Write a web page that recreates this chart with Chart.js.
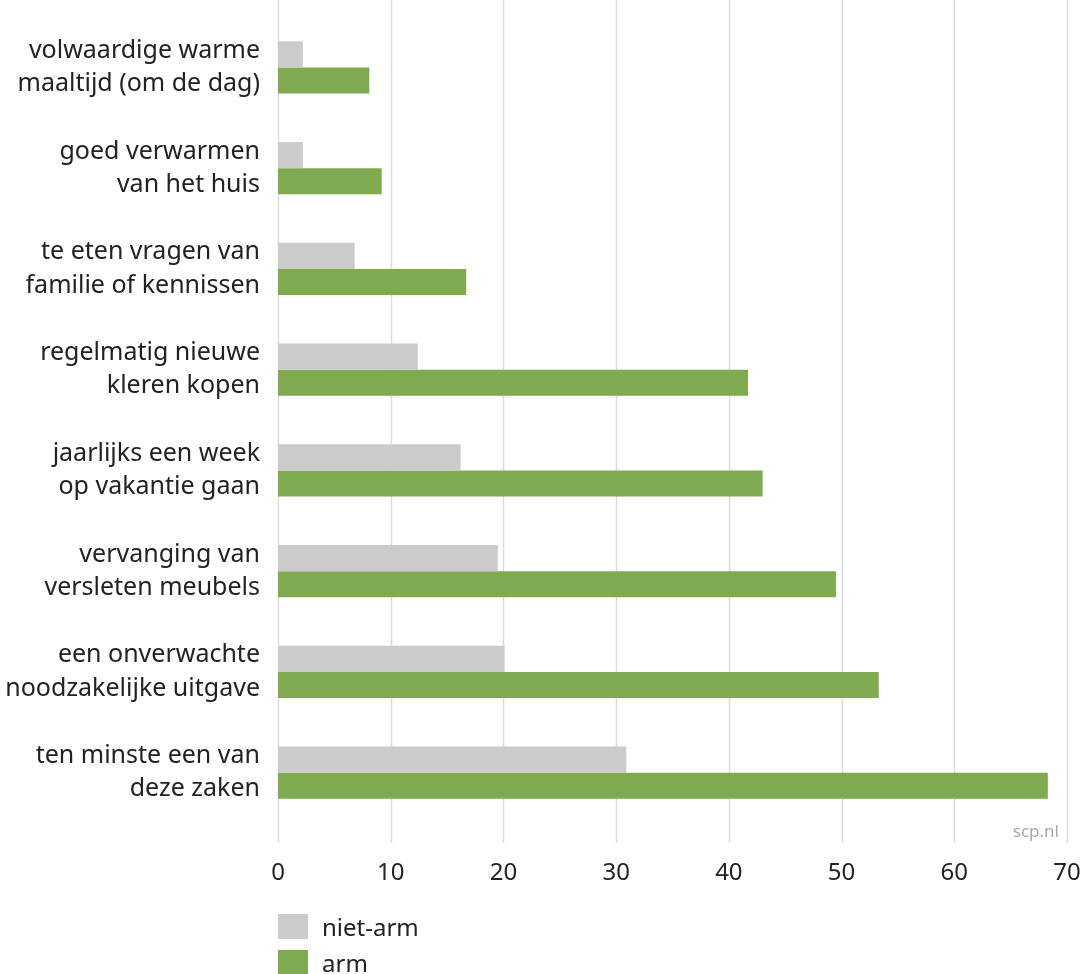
<!DOCTYPE html>
<html>
<head>
<meta charset="utf-8">
<script src="https://cdn.jsdelivr.net/npm/chart.js@4"></script>
<style>
  body { margin: 0; background: #fff; font-family: "Noto Sans", sans-serif; }
  #wrap { position: relative; width: 1082px; height: 974px; }
  #legend { position: absolute; left: 278px; top: 908px; font-size: 24px; color: #222; }
  #legend div { display: flex; align-items: center; height: 36px; }
  #legend span.box { display: inline-block; width: 30px; height: 25px; margin-right: 14px; }
</style>
</head>
<body>
<div id="wrap">
  <canvas id="chart" width="1082" height="974"></canvas>
  <div id="legend"></div>
</div>
<script>
const categories = [
  ['volwaardige warme', 'maaltijd (om de dag)'],
  ['goed verwarmen', 'van het huis'],
  ['te eten vragen van', 'familie of kennissen'],
  ['regelmatig nieuwe', 'kleren kopen'],
  ['jaarlijks een week', 'op vakantie gaan'],
  ['vervanging van', 'versleten meubels'],
  ['een onverwachte', 'noodzakelijke uitgave'],
  ['ten minste een van', 'deze zaken']
];
const nietArm = [2.2, 2.2, 6.8, 12.4, 16.2, 19.5, 20.1, 30.9];
const arm = [8.1, 9.2, 16.7, 41.7, 43.0, 49.5, 53.3, 68.3];
const seriesNames = ['niet-arm', 'arm'];
const colors = ['#cbcbcb', '#7faa50'];

// vertical grid lines run from the top of the canvas to just under the bars
const gridPlugin = {
  id: 'gridPlugin',
  beforeDatasetsDraw(chart) {
    const ctx = chart.ctx;
    const x = chart.scales.x;
    ctx.save();
    ctx.strokeStyle = '#dcdcdc';
    ctx.lineWidth = 1.5;
    x.ticks.forEach(t => {
      const px = Math.round(x.getPixelForValue(t.value)) + 0.5;
      ctx.beginPath();
      ctx.moveTo(px, 0);
      ctx.lineTo(px, chart.chartArea.bottom + 20);
      ctx.stroke();
    });
    ctx.fillStyle = '#a8a8a8';
    ctx.font = '17px "Noto Sans"';
    ctx.textAlign = 'right';
    ctx.textBaseline = 'alphabetic';
    ctx.fillText('scp.nl', chart.chartArea.right - 8, chart.chartArea.bottom + 14);
    ctx.restore();
  }
};

new Chart(document.getElementById('chart'), {
  type: 'bar',
  data: {
    labels: categories,
    datasets: [
      { label: seriesNames[0], data: nietArm, backgroundColor: colors[0] },
      { label: seriesNames[1], data: arm, backgroundColor: colors[1] }
    ]
  },
  options: {
    indexAxis: 'y',
    responsive: false,
    animation: false,
    layout: { padding: { top: 17, right: 15, left: 0, bottom: 0 } },
    datasets: { bar: { categoryPercentage: 0.517, barPercentage: 1 } },
    plugins: { legend: { display: false }, tooltip: { enabled: false } },
    scales: {
      x: {
        min: 0, max: 70,
        ticks: { stepSize: 10, padding: 28, color: '#222', font: { family: 'Noto Sans', size: 24 } },
        grid: { display: false },
        border: { display: false },
        afterFit(s) { s.height = 151; s.paddingLeft = 0; s.paddingRight = 0; }
      },
      y: {
        ticks: { padding: 10, color: '#222', font: { family: 'Noto Sans', size: 25, lineHeight: 1.33 } },
        grid: { display: false },
        border: { display: false },
        afterFit(s) { s.width = 278; s.paddingTop = 0; s.paddingBottom = 0; }
      }
    }
  },
  plugins: [gridPlugin]
});

const legend = document.getElementById('legend');
seriesNames.forEach((n, i) => {
  const d = document.createElement('div');
  d.innerHTML = '<span class="box" style="background:' + colors[i] + '"></span>' + n;
  legend.appendChild(d);
});
</script>
</body>
</html>
